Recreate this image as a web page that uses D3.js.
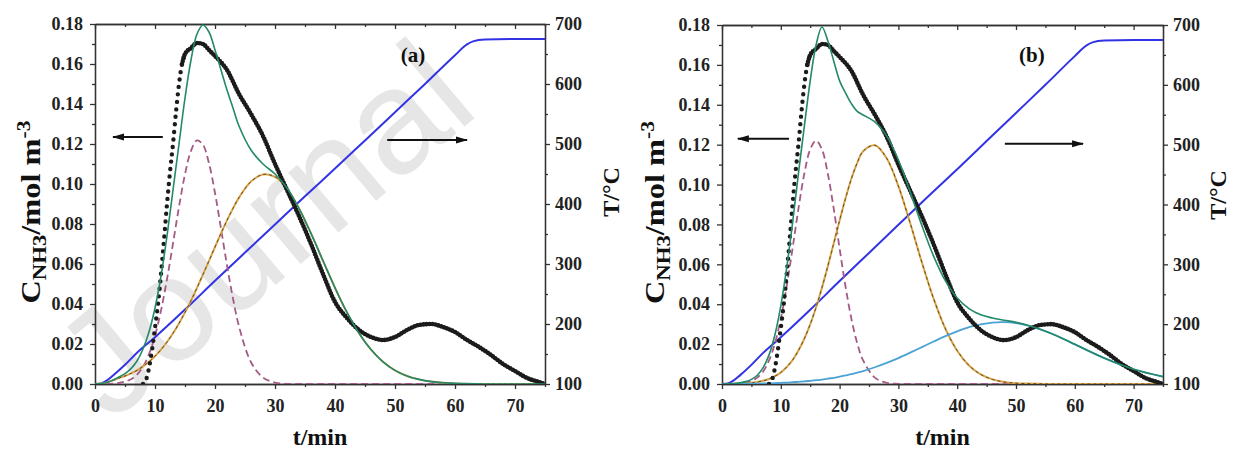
<!DOCTYPE html>
<html>
<head>
<meta charset="utf-8">
<script src="https://cdn.jsdelivr.net/npm/d3@7"></script>
<style>
  body { margin: 0; background: #fff; }
  text { font-family: "Liberation Serif", "Times New Roman", serif; font-weight: bold; }
</style>
</head>
<body>
<script>
// ---- data ----
// measured NH3 concentration (same run in both panels)
const expTime = [8, 8.5, 9, 9.5, 10, 10.5, 11, 11.5, 12, 12.5, 13, 13.5, 14, 14.5, 15, 16, 17, 18, 19, 20,
  22, 24, 26, 28, 30, 32, 34, 36, 38, 40, 42, 44, 46, 48, 50, 52, 54, 56, 58, 60, 62, 64, 66, 68, 70, 72, 74, 75];
const expConc = [0, 0.002, 0.008, 0.017, 0.028, 0.04, 0.055, 0.072, 0.09, 0.106, 0.12, 0.136, 0.15, 0.16, 0.165, 0.168, 0.1705, 0.17, 0.167, 0.164,
  0.157, 0.145, 0.135, 0.124, 0.11, 0.097, 0.084, 0.07, 0.055, 0.041, 0.033, 0.027, 0.0235, 0.022, 0.0235, 0.027, 0.0295, 0.03, 0.0285, 0.026, 0.022, 0.0185, 0.0145, 0.01, 0.0065, 0.003, 0.001, 0];

// temperature programme
const tempTime = [0, 1, 2, 3, 5, 7, 10, 15, 20, 25, 30, 35, 40, 45, 50, 55, 60, 62, 63, 65, 70, 75];
const tempVal = [100, 101, 106, 114, 132, 152, 178, 224, 272, 319, 366, 413, 459, 506, 553, 600, 648, 666, 671, 674, 675, 675];

// fitted curves
const fitTime = [0, 2, 4, 5, 6, 7, 8, 9, 10, 11, 12, 13, 14, 15, 16, 17, 18, 19, 20, 21, 22, 23, 24, 26, 28, 30,
  32, 34, 36, 38, 40, 42, 44, 46, 48, 50, 52, 54, 56, 58, 60, 65, 70, 75];

// panel (a)
const fitA = [0, 0.0008, 0.0035, 0.0052, 0.0077, 0.0115, 0.0175, 0.026, 0.038, 0.054, 0.074, 0.097, 0.12, 0.143, 0.162, 0.175, 0.1795, 0.176, 0.167, 0.157, 0.147, 0.138, 0.129, 0.117, 0.110, 0.105,
  0.098, 0.0878, 0.0753, 0.0616, 0.0481, 0.0358, 0.0254, 0.0172, 0.0111, 0.0068, 0.004, 0.0023, 0.0012, 0.0006, 0.0003, 0, 0, 0];
const peakA1 = [0, 0, 0.0005, 0.0012, 0.0024, 0.0047, 0.0087, 0.0149, 0.0241, 0.0367, 0.0524, 0.0703, 0.0886, 0.1049, 0.1166, 0.1218, 0.1196, 0.1103, 0.0955, 0.0777, 0.0594, 0.0427, 0.0288, 0.0109, 0.0032, 0.0007,
  0.0001, 0, 0, 0, 0, 0, 0, 0, 0, 0, 0, 0, 0, 0, 0, 0, 0, 0];
const peakA2 = [0, 0.0008, 0.003, 0.004, 0.0053, 0.0068, 0.0088, 0.0111, 0.0139, 0.0172, 0.021, 0.0254, 0.0303, 0.0358, 0.0417, 0.0481, 0.0548, 0.0616, 0.0685, 0.0753, 0.0818, 0.0878, 0.0932, 0.1012, 0.1048, 0.1036,
  0.0977, 0.0878, 0.0753, 0.0616, 0.0481, 0.0358, 0.0254, 0.0172, 0.0111, 0.0068, 0.004, 0.0023, 0.0012, 0.0006, 0.0003, 0, 0, 0];

// panel (b)
const fitB = [0.0001, 0.0002, 0.0012, 0.0023, 0.0044, 0.0082, 0.0146, 0.0247, 0.0392, 0.0582, 0.0808, 0.1056, 0.1292, 0.152, 0.170, 0.179, 0.172, 0.162, 0.152, 0.146, 0.1406, 0.1367, 0.1349, 0.1314, 0.1244, 0.1123,
  0.0964, 0.0794, 0.064, 0.0517, 0.0431, 0.0378, 0.0347, 0.0331, 0.032, 0.0309, 0.0295, 0.0276, 0.0253, 0.0227, 0.0199, 0.013, 0.0074, 0.0037];
const peakB1 = [0, 0, 0.0006, 0.0015, 0.0032, 0.0063, 0.0118, 0.0204, 0.0328, 0.049, 0.068, 0.0879, 0.1054, 0.1176, 0.122, 0.1176, 0.1054, 0.0879, 0.068, 0.049, 0.0328, 0.0204, 0.0118, 0.0032, 0.0006, 0.0001,
  0, 0, 0, 0, 0, 0, 0, 0, 0, 0, 0, 0, 0, 0, 0, 0, 0, 0];
const peakB2 = [0, 0.0001, 0.0004, 0.0006, 0.001, 0.0016, 0.0025, 0.0039, 0.0058, 0.0085, 0.012, 0.0168, 0.0227, 0.0299, 0.0385, 0.0483, 0.0591, 0.0705, 0.082, 0.093, 0.1029, 0.1109, 0.1167, 0.1197, 0.1132, 0.0992,
  0.0807, 0.0609, 0.0427, 0.0277, 0.0167, 0.0093, 0.0048, 0.0023, 0.001, 0.0004, 0.0002, 0.0001, 0, 0, 0, 0, 0, 0];
const peakB3 = [0.0001, 0.0001, 0.0002, 0.0002, 0.0002, 0.0003, 0.0003, 0.0004, 0.0006, 0.0007, 0.0009, 0.0011, 0.0013, 0.0016, 0.0019, 0.0022, 0.0027, 0.0031, 0.0037, 0.0043, 0.0049, 0.0057, 0.0065, 0.0084, 0.0106, 0.013,
  0.0157, 0.0185, 0.0213, 0.024, 0.0264, 0.0285, 0.0299, 0.0308, 0.031, 0.0305, 0.0293, 0.0275, 0.0253, 0.0227, 0.0199, 0.013, 0.0074, 0.0037];

// ticks
const xTicks = [0, 10, 20, 30, 40, 50, 60, 70];
const xMinor = [5, 15, 25, 35, 45, 55, 65, 75];
const cTicks = [0, 0.02, 0.04, 0.06, 0.08, 0.10, 0.12, 0.14, 0.16, 0.18];
const cMinor = [0.01, 0.03, 0.05, 0.07, 0.09, 0.11, 0.13, 0.15, 0.17];
const tTicks = [100, 200, 300, 400, 500, 600, 700];
const tMinor = [150, 250, 350, 450, 550, 650];

// ---- layout ----
const W = 1233, H = 452;

const svg = d3.select("body").append("svg")
  .attr("width", W)
  .attr("height", H);

svg.append("defs").append("marker")
  .attr("id", "arrow")
  .attr("viewBox", "0 0 12 8")
  .attr("refX", 11).attr("refY", 4)
  .attr("markerUnits", "userSpaceOnUse")
  .attr("markerWidth", 13).attr("markerHeight", 8)
  .attr("orient", "auto")
  .append("path")
  .attr("d", "M0,0.5 L12,4 L0,7.5 Z")
  .attr("fill", "#111");

// faint watermark behind the charts
svg.append("text")
  .attr("transform", "translate(110,424) rotate(-40)")
  .style("font-family", "'Liberation Sans', Arial, sans-serif")
  .style("font-weight", "normal")
  .style("font-size", "148px")
  .attr("fill", "#e6e6e6")
  .text("Journal");

const panels = [
  { id: "a", left: 95, right: 545, top: 24, bottom: 384, fit: fitA, peaks: [peakA1, peakA2],
    tag: "(a)", tagAt: 53, yTitleX: 40, tTitleX: 619, tTitleY: 192,
    arrowL: [11.3, 3, 0.1235], arrowR: [48.7, 62, 0.122] },
  { id: "b", left: 722, right: 1163, top: 25, bottom: 384, fit: fitB, peaks: [peakB1, peakB2, peakB3],
    tag: "(b)", tagAt: 52.7, yTitleX: 664, tTitleX: 1226, tTitleY: 195,
    arrowL: [11.4, 2.7, 0.123], arrowR: [48.1, 61.4, 0.1205] }
];

panels.forEach(p => drawPanel(p));

function drawPanel(p) {
  const g = svg.append("g").attr("class", "panel-" + p.id);

  const x = d3.scaleLinear().domain([0, 75]).range([p.left, p.right]);
  const y = d3.scaleLinear().domain([0, 0.18]).range([p.bottom, p.top]);
  const yT = d3.scaleLinear().domain([100, 700]).range([p.bottom, p.top]);

  g.append("clipPath").attr("id", "clip-" + p.id)
    .append("rect")
    .attr("x", p.left).attr("y", p.top - 2)
    .attr("width", p.right - p.left).attr("height", p.bottom - p.top + 2);

  // axes
  const axisColor = "#333";
  const styleAxis = sel => {
    sel.selectAll("path, line").attr("stroke", axisColor).attr("stroke-width", 1.3);
    sel.selectAll("text")
      .style("font-family", "'Liberation Serif', 'Times New Roman', serif")
      .style("font-weight", "bold")
      .style("font-size", "18px")
      .attr("fill", "#222");
  };

  g.append("g").attr("transform", `translate(0,${p.bottom})`)
    .call(d3.axisBottom(x).tickValues(xTicks).tickSize(5).tickSizeOuter(0).tickPadding(10).tickFormat(d3.format("d")))
    .call(styleAxis);
  g.append("g").attr("transform", `translate(0,${p.bottom})`)
    .call(d3.axisBottom(x).tickValues(xMinor).tickSize(3).tickSizeOuter(0).tickFormat(""))
    .call(styleAxis);
  g.append("g").attr("transform", `translate(0,${p.top})`)
    .call(d3.axisTop(x).tickValues(xTicks).tickSize(-5).tickSizeOuter(0).tickFormat(""))
    .call(styleAxis);
  g.append("g").attr("transform", `translate(0,${p.top})`)
    .call(d3.axisTop(x).tickValues(xMinor).tickSize(-3).tickSizeOuter(0).tickFormat(""))
    .call(styleAxis);

  g.append("g").attr("transform", `translate(${p.left},0)`)
    .call(d3.axisLeft(y).tickValues(cTicks).tickSize(5).tickSizeOuter(0).tickPadding(7).tickFormat(d3.format(".2f")))
    .call(styleAxis);
  g.append("g").attr("transform", `translate(${p.left},0)`)
    .call(d3.axisLeft(y).tickValues(cMinor).tickSize(3).tickSizeOuter(0).tickFormat(""))
    .call(styleAxis);

  g.append("g").attr("transform", `translate(${p.right},0)`)
    .call(d3.axisRight(yT).tickValues(tTicks).tickSize(5).tickSizeOuter(0).tickPadding(5).tickFormat(d3.format("d")))
    .call(styleAxis);
  g.append("g").attr("transform", `translate(${p.right},0)`)
    .call(d3.axisRight(yT).tickValues(tMinor).tickSize(3).tickSizeOuter(0).tickFormat(""))
    .call(styleAxis);

  // curves
  const plot = g.append("g").attr("clip-path", `url(#clip-${p.id})`);

  const lineC = d3.line()
    .x((d, i) => x(fitTime[i]))
    .y(d => y(d))
    .curve(d3.curveCatmullRom);

  // temperature
  plot.append("path")
    .attr("d", d3.line().x((d, i) => x(tempTime[i])).y(d => yT(d)).curve(d3.curveMonotoneX)(tempVal))
    .attr("fill", "none").attr("stroke", "#3333e6").attr("stroke-width", 2);

  // peak 1 (dashed)
  plot.append("path")
    .attr("d", lineC(p.peaks[0]))
    .attr("fill", "none").attr("stroke", "#a45a86").attr("stroke-width", 1.8)
    .attr("stroke-dasharray", "7,4");

  // peak 2 (orange with dark dashes)
  plot.append("path")
    .attr("d", lineC(p.peaks[1]))
    .attr("fill", "none").attr("stroke", "#d8a548").attr("stroke-width", 2);
  plot.append("path")
    .attr("d", lineC(p.peaks[1]))
    .attr("fill", "none").attr("stroke", "#6a4a22").attr("stroke-width", 1)
    .attr("stroke-dasharray", "3,3");

  // peak 3 (panel b only)
  if (p.peaks[2]) {
    plot.append("path")
      .attr("d", lineC(p.peaks[2]))
      .attr("fill", "none").attr("stroke", "#4aa3d4").attr("stroke-width", 1.8);
  }

  // measured points: sparse dots on the steep rise, a dense fuzzy band afterwards
  const pts = d3.zip(expTime, expConc);
  const lineE = d3.line().x(d => x(d[0])).y(d => y(d[1])).curve(d3.curveMonotoneX);
  plot.append("path")
    .attr("d", lineE(pts.filter(d => d[0] <= 15)))
    .attr("fill", "none").attr("stroke", "#1b1b1b").attr("stroke-width", 4.4)
    .attr("stroke-linecap", "round").attr("stroke-dasharray", "0,7.5");
  plot.append("path")
    .attr("d", lineE(pts.filter(d => d[0] >= 14.5)))
    .attr("fill", "none").attr("stroke", "#2a2a2a").attr("stroke-width", 3);
  plot.append("path")
    .attr("d", lineE(pts.filter(d => d[0] >= 14.5)))
    .attr("fill", "none").attr("stroke", "#1b1b1b").attr("stroke-width", 4.6)
    .attr("stroke-linecap", "round").attr("stroke-dasharray", "0,3");

  // total fit
  plot.append("path")
    .attr("d", lineC(p.fit))
    .attr("fill", "none").attr("stroke", "#23896a").attr("stroke-width", 1.6);

  // arrows
  g.append("line")
    .attr("x1", x(p.arrowL[0])).attr("x2", x(p.arrowL[1]))
    .attr("y1", y(p.arrowL[2])).attr("y2", y(p.arrowL[2]))
    .attr("stroke", "#111").attr("stroke-width", 2).attr("marker-end", "url(#arrow)");
  g.append("line")
    .attr("x1", x(p.arrowR[0])).attr("x2", x(p.arrowR[1]))
    .attr("y1", y(p.arrowR[2])).attr("y2", y(p.arrowR[2]))
    .attr("stroke", "#111").attr("stroke-width", 2).attr("marker-end", "url(#arrow)");

  // panel tag
  g.append("text")
    .attr("x", x(p.tagAt)).attr("y", 62)
    .attr("text-anchor", "middle")
    .style("font-size", "21px")
    .attr("fill", "#111")
    .text(p.tag);

  // x title
  g.append("text")
    .attr("x", (p.left + p.right) / 2).attr("y", 445)
    .attr("text-anchor", "middle")
    .style("font-size", "24px")
    .attr("fill", "#111")
    .text("t/min");

  // left title
  const lt = g.append("text")
    .attr("transform", `translate(${p.yTitleX},${(p.top + p.bottom) / 2 + 8}) rotate(-90) scale(1.2,1)`)
    .attr("text-anchor", "middle")
    .style("font-size", "27px")
    .attr("fill", "#111");
  lt.append("tspan").text("C");
  lt.append("tspan").attr("dy", 6).style("font-size", "19px").text("NH3");
  lt.append("tspan").attr("dy", -6).text("/mol m");
  lt.append("tspan").attr("dy", -10).style("font-size", "18px").text("-3");

  // right title
  g.append("text")
    .attr("transform", `translate(${p.tTitleX},${p.tTitleY}) rotate(-90)`)
    .attr("text-anchor", "middle")
    .style("font-size", "24px")
    .attr("fill", "#111")
    .text("T/°C");
}
</script>
</body>
</html>
